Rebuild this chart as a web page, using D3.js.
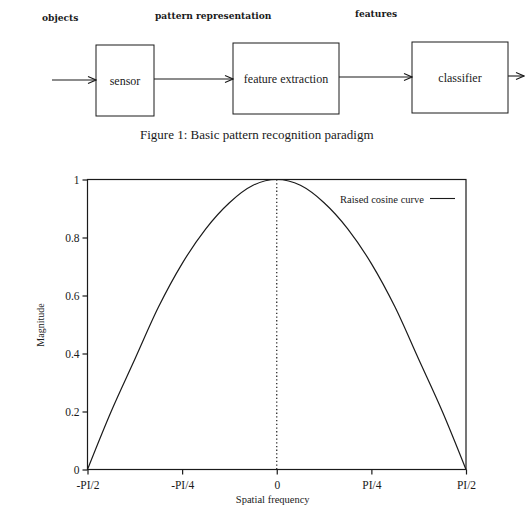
<!DOCTYPE html>
<html>
<head>
<meta charset="utf-8">
<script src="https://cdn.jsdelivr.net/npm/d3@7"></script>
<style>
  body { margin: 0; background: #fff; }
  svg { display: block; }
</style>
</head>
<body>
<svg id="page"></svg>
<script>
// block diagram text
const flowLabels = ['objects', 'pattern representation', 'features'];
const stageNames = ['sensor', 'feature extraction', 'classifier'];
const caption = 'Figure 1:  Basic pattern recognition paradigm';

// chart data: frequency in units of PI/16, magnitude
const freqSteps = [-8, -7, -6, -5, -4, -3, -2, -1, 0, 1, 2, 3, 4, 5, 6, 7, 8];
const magnitude = [0, 0.20, 0.38, 0.56, 0.71, 0.83, 0.92, 0.98, 1.0, 0.98, 0.92, 0.83, 0.71, 0.56, 0.38, 0.20, 0];
const xTickSteps = [-8, -4, 0, 4, 8];
const xTickLabels = ['-PI/2', '-PI/4', '0', 'PI/4', 'PI/2'];
const yTicks = [0, 0.2, 0.4, 0.6, 0.8, 1];
const seriesName = 'Raised cosine curve';

const W = 525, H = 512;
const ink = '#1a1a1a';
const svg = d3.select('#page').attr('width', W).attr('height', H);

// ---------- block diagram ----------
const defs = svg.append('defs');
defs.append('marker')
    .attr('id', 'chev')
    .attr('viewBox', '-9 -5 10 10')
    .attr('refX', 0).attr('refY', 0)
    .attr('markerWidth', 10).attr('markerHeight', 10)
    .attr('markerUnits', 'userSpaceOnUse')
    .attr('orient', 'auto')
  .append('path')
    .attr('d', 'M-8,-3.5 L0,0 L-8,3.5')
    .attr('fill', 'none')
    .attr('stroke', ink)
    .attr('stroke-width', 1.1);

const flowX = [42, 155, 355];
const flowY = [21, 19, 17];
svg.append('g').selectAll('text')
    .data(flowLabels)
    .join('text')
    .attr('x', (d, i) => flowX[i])
    .attr('y', (d, i) => flowY[i])
    .style('font-family', '"DejaVu Serif", serif')
    .style('font-weight', 'bold')
    .style('font-size', '9.1px')
    .attr('fill', ink)
    .text(d => d);

const boxes = [
    {x: 96, y: 45, w: 58, h: 71},
    {x: 233, y: 43, w: 106, h: 71},
    {x: 412, y: 42, w: 96, h: 71}
];
const stage = svg.append('g').selectAll('g')
    .data(stageNames)
    .join('g');
stage.append('rect')
    .attr('x', (d, i) => boxes[i].x)
    .attr('y', (d, i) => boxes[i].y)
    .attr('width', (d, i) => boxes[i].w)
    .attr('height', (d, i) => boxes[i].h)
    .attr('fill', 'none')
    .attr('stroke', ink)
    .attr('stroke-width', 1);
stage.append('text')
    .attr('x', (d, i) => boxes[i].x + boxes[i].w / 2)
    .attr('y', (d, i) => boxes[i].y + boxes[i].h / 2 + 4)
    .attr('text-anchor', 'middle')
    .style('font-family', '"Liberation Serif", serif')
    .style('font-size', '12px')
    .attr('fill', ink)
    .text(d => d);

const arrows = [
    {x1: 52, x2: 96, y: 80},
    {x1: 154, x2: 233, y: 79},
    {x1: 339, x2: 412, y: 77},
    {x1: 508, x2: 524, y: 76}
];
svg.append('g').selectAll('line')
    .data(arrows)
    .join('line')
    .attr('x1', d => d.x1).attr('x2', d => d.x2)
    .attr('y1', d => d.y).attr('y2', d => d.y)
    .attr('stroke', ink)
    .attr('stroke-width', 1.1)
    .attr('marker-end', 'url(#chev)');

svg.append('text')
    .attr('x', 140)
    .attr('y', 139)
    .style('font-family', '"Liberation Serif", serif')
    .style('font-size', '13px')
    .attr('fill', ink)
    .text(caption);

// ---------- raised cosine chart ----------
const plot = {left: 87.5, right: 466, top: 179.5, bottom: 469.5};

const xscale = d3.scaleLinear().domain([-8, 8]).range([plot.left, plot.right]);
const yscale = d3.scaleLinear().domain([0, 1]).range([plot.bottom, plot.top]);

const chart = svg.append('g');

// frame
chart.append('rect')
    .attr('x', plot.left).attr('y', plot.top)
    .attr('width', plot.right - plot.left)
    .attr('height', plot.bottom - plot.top)
    .attr('fill', 'none')
    .attr('stroke', ink)
    .attr('stroke-width', 1.2);

const xaxis = d3.axisBottom(xscale)
    .tickValues(xTickSteps)
    .tickFormat((d, i) => xTickLabels[i])
    .tickSize(5)
    .tickPadding(6)
    .tickSizeOuter(0);
const yaxis = d3.axisLeft(yscale)
    .tickValues(yTicks)
    .tickFormat(d => d)
    .tickSize(5)
    .tickPadding(3)
    .tickSizeOuter(0);

const xg = chart.append('g')
    .attr('transform', `translate(0, ${plot.bottom})`)
    .call(xaxis);
const yg = chart.append('g')
    .attr('transform', `translate(${plot.left}, 0)`)
    .call(yaxis);

[xg, yg].forEach(g => {
    g.select('.domain').remove();
    g.selectAll('line').attr('stroke', ink).attr('stroke-width', 1.2);
    g.selectAll('text')
        .attr('fill', ink)
        .style('font-family', '"Liberation Serif", serif')
        .style('font-size', '11.5px');
});
xg.selectAll('text').attr('dy', '0.75em');

// dotted zero line
chart.append('line')
    .attr('x1', xscale(0)).attr('x2', xscale(0))
    .attr('y1', plot.top).attr('y2', plot.bottom)
    .attr('stroke', ink)
    .attr('stroke-width', 1.2)
    .attr('stroke-dasharray', '1.3,2.4');

// curve
const line = d3.line()
    .x((d, i) => xscale(freqSteps[i]))
    .y(d => yscale(d))
    .curve(d3.curveMonotoneX);
chart.append('path')
    .attr('d', line(magnitude))
    .attr('fill', 'none')
    .attr('stroke', ink)
    .attr('stroke-width', 1.2);

// legend
chart.append('text')
    .attr('x', 340).attr('y', 203)
    .style('font-family', '"Liberation Serif", serif')
    .style('font-size', '10.5px')
    .attr('fill', ink)
    .text(seriesName);
chart.append('line')
    .attr('x1', 430).attr('x2', 455)
    .attr('y1', 198.5).attr('y2', 198.5)
    .attr('stroke', ink)
    .attr('stroke-width', 1.1);

// axis titles
chart.append('text')
    .attr('x', plot.left + (plot.right - plot.left) / 2 - 4)
    .attr('y', 503)
    .attr('text-anchor', 'middle')
    .style('font-family', '"Liberation Serif", serif')
    .style('font-size', '10.5px')
    .attr('fill', ink)
    .text('Spatial frequency');
chart.append('text')
    .attr('transform', 'rotate(-90)')
    .attr('x', -325)
    .attr('y', 44)
    .attr('text-anchor', 'middle')
    .style('font-family', '"Liberation Serif", serif')
    .style('font-size', '10px')
    .attr('fill', ink)
    .text('Magnitude');
</script>
</body>
</html>
